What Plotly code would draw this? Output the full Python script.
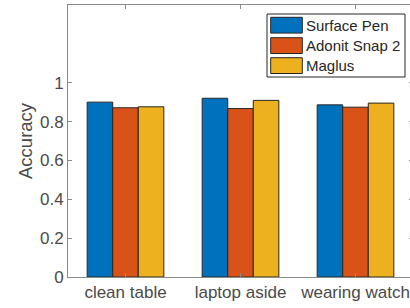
import plotly.graph_objects as go

categories = ["clean table", "laptop aside", "wearing watch"]
series_names = ["Surface Pen", "Adonit Snap 2", "Maglus"]
surface_pen = [0.900, 0.920, 0.886]
adonit_snap2 = [0.871, 0.867, 0.874]
maglus = [0.876, 0.909, 0.895]
y_ticks = [0, 0.2, 0.4, 0.6, 0.8, 1]
y_tick_labels = ["0", "0.2", "0.4", "0.6", "0.8", "1"]

colors = ["#0072BD", "#D95319", "#EDB120"]
values = [surface_pen, adonit_snap2, maglus]

FONT = "Liberation Sans, Arial, Helvetica, sans-serif"
TXT = "#4a4a4a"
AX = "#8a8a8a"

fig = go.Figure()
for name, vals, col in zip(series_names, values, colors):
    fig.add_trace(go.Bar(
        x=list(range(1, len(categories) + 1)), y=vals, name=name,
        marker=dict(color=col, line=dict(color="#262626", width=1)),
        showlegend=False,
    ))

# figure slightly wider than the 410px window: right frame edge falls just off-canvas
W, H = 413, 308
ml, mt, mr, mb = 68, 5, 0, 31
fig.update_layout(
    width=W, height=H,
    margin=dict(l=ml, r=mr, t=mt, b=mb, pad=0, autoexpand=False),
    paper_bgcolor="white", plot_bgcolor="white",
    barmode="group", bargap=1/3, bargroupgap=0,
    font=dict(family=FONT, size=17, color=TXT),
)
fig.update_xaxes(
    range=[0.5, 3.5], tickmode="array",
    tickvals=list(range(1, len(categories) + 1)), ticktext=categories,
    showline=True, linecolor=AX, linewidth=1, mirror="ticks",
    ticks="inside", ticklen=4, tickcolor=AX, showgrid=False, zeroline=False,
    tickfont=dict(family=FONT, size=17, color=TXT), automargin=False,
)
fig.update_yaxes(
    range=[0, 1.4], tickmode="array", tickvals=y_ticks, ticktext=y_tick_labels,
    showline=True, linecolor=AX, linewidth=1, mirror="ticks",
    ticks="inside", ticklen=4, tickcolor=AX, showgrid=False, zeroline=False,
    tickfont=dict(family=FONT, size=17, color=TXT), automargin=False,
)

# y-axis label
plot_w = W - ml - mr
plot_h = H - mt - mb
def px_x(px):
    return (px - ml) / plot_w
def px_y(py):
    return (H - mb - py) / plot_h

fig.add_annotation(
    text="Accuracy", x=px_x(25), y=0.5, xref="paper", yref="paper",
    textangle=-90, showarrow=False, xanchor="center", yanchor="middle",
    font=dict(family=FONT, size=18.5, color=TXT),
)

# legend box (custom)
fig.add_shape(type="rect", xref="paper", yref="paper",
              x0=px_x(267), x1=px_x(405), y0=px_y(77), y1=px_y(14),
              line=dict(color="#262626", width=1), fillcolor="white", layer="above")
row_top = [17.3, 37.7, 57.7]
for i, (name, col) in enumerate(zip(series_names, colors)):
    t = row_top[i]
    fig.add_shape(type="rect", xref="paper", yref="paper",
                  x0=px_x(270.7), x1=px_x(302.3), y0=px_y(t + 15.8), y1=px_y(t),
                  line=dict(color="#262626", width=1), fillcolor=col, layer="above")
    fig.add_annotation(text=name, x=px_x(304), y=px_y(t + 8), xref="paper", yref="paper",
                       showarrow=False, xanchor="left", yanchor="middle",
                       font=dict(family=FONT, size=15, color="#262626"))

fig.write_html(
    "out.html",
    config={"displayModeBar": False},
    post_script="document.body.style.margin='0';document.body.style.padding='0';document.body.style.overflow='hidden';",
)
